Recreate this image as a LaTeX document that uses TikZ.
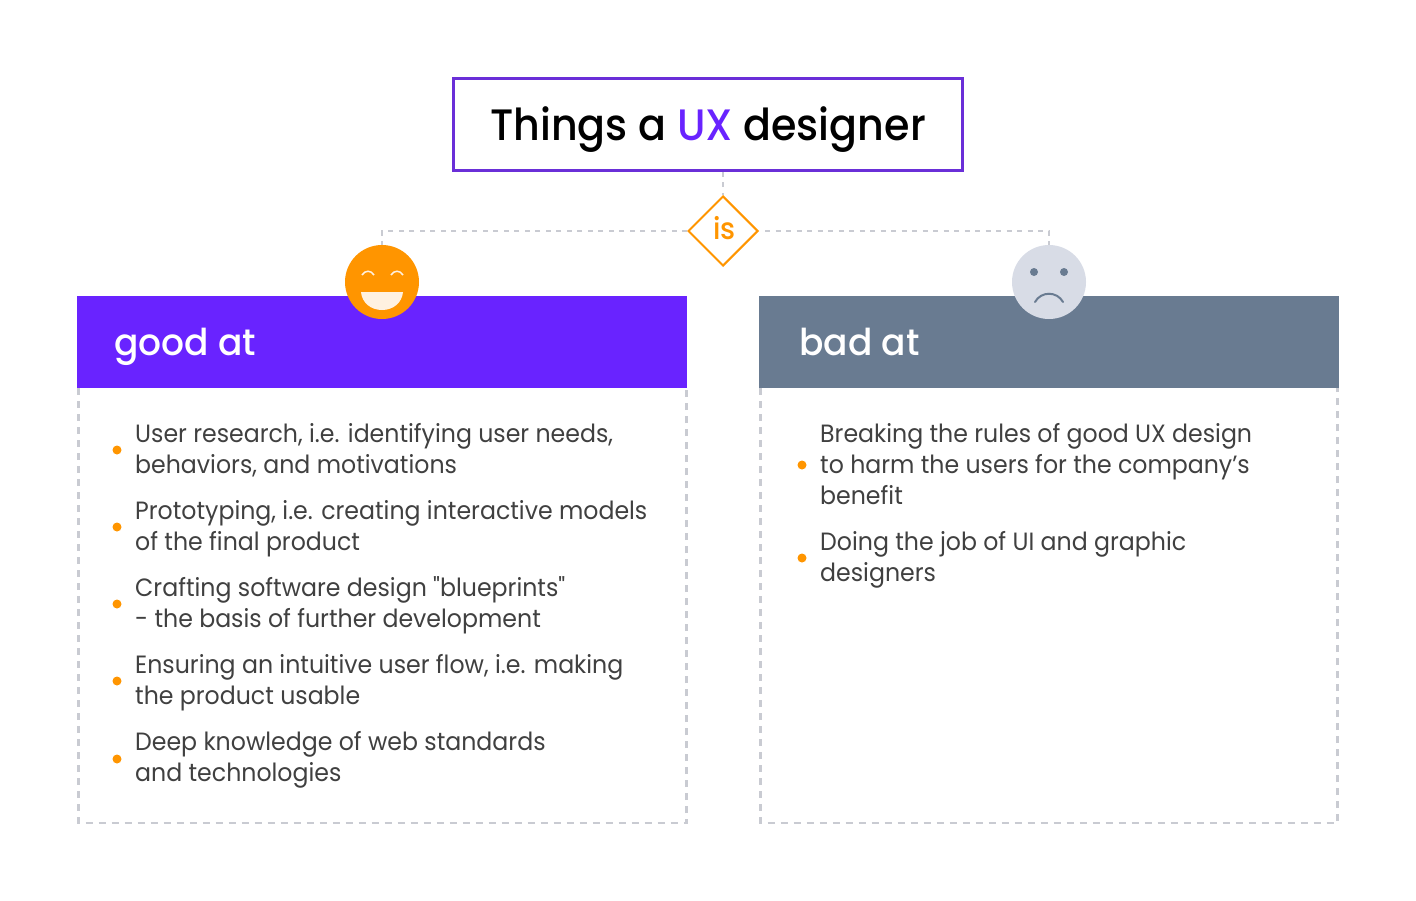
\documentclass[tikz,border=0pt]{standalone}
\usepackage{fontspec}
\usetikzlibrary{shapes.geometric}
\setmainfont{Poppins}
\newfontfamily\itemfont[FakeStretch=0.946]{Poppins}
\newfontfamily\medfont[FakeStretch=0.937]{Poppins Medium}
\newfontfamily\headfont[FakeStretch=0.973]{Poppins Medium}
\definecolor{uxpurple}{HTML}{6923FF}
\definecolor{uxframe}{HTML}{6A2FD8}
\definecolor{uxslate}{HTML}{697B91}
\definecolor{uxorange}{HTML}{FF9500}
\definecolor{uxdash}{HTML}{C9CBD2}
\definecolor{uxface}{HTML}{D8DCE6}
\definecolor{uxtext}{HTML}{404040}
\definecolor{uxcream}{HTML}{FFF1E0}
\tikzset{
  x=1pt,y=-1pt,
  dashline/.style={uxdash,line width=2.4pt,dash pattern=on 5pt off 5.5pt},
  framebox/.style={draw=uxdash,line width=2.2pt,dash pattern=on 7pt off 6pt},
  header/.style={minimum height=92pt,inner sep=0pt,anchor=north west},
  headtext/.style={anchor=base west,inner sep=0pt,text=white,font=\headfont\fontsize{37}{37}\selectfont},
  item/.style={anchor=west,inner sep=0pt,align=left,text=uxtext,font=\itemfont\fontsize{25}{31}\selectfont},
  bullet/.style={circle,fill=uxorange,minimum size=9pt,inner sep=0pt},
  face/.style={circle,minimum size=74pt,inner sep=0pt},
}
\begin{document}
\begin{tikzpicture}
\useasboundingbox (0,0) rectangle (1416,900);
\node[draw=uxframe,line width=2.6pt,minimum width=509pt,minimum height=92pt,inner sep=0pt,text height=31pt,text depth=0pt,font=\medfont\fontsize{44}{44}\selectfont] (title) at (708,124.5) {Things a \textcolor{uxpurple}{UX} designer};
\node[diamond,draw=uxorange,line width=2pt,minimum width=70pt,minimum height=70pt,inner sep=0pt,text height=16.6pt,text depth=0pt,text=uxorange,font=\medfont\fontsize{30}{30}\selectfont] (is) at (723,231) {\hspace*{3pt}is};
\draw[framebox] (78.5,388) -- (78.5,823) -- (686.5,823) -- (686.5,388);
\draw[framebox] (760.5,388) -- (760.5,823) -- (1337.5,823) -- (1337.5,388);
\node[header,fill=uxpurple,minimum width=610pt] (good) at (77,296) {};
\node[header,fill=uxslate,minimum width=580pt] (bad) at (759,296) {};
\node[face,fill=uxorange] (happy) at (382,282) {};
\node[face,fill=uxface] (sad) at (1049,282) {};
\node[headtext] (goodt) at (114,355) {good at};
\node[headtext] (badt) at (799,355) {bad at};
\coordinate (jl) at (is.west -| happy.north);
\coordinate (jr) at (is.east -| sad.north);
\draw[dashline] (title.south -| is.north) -- (is.north);
\draw[dashline] (is.west) -- (jl) -- (happy.north);
\draw[dashline] ([xshift=6pt]is.east) -- (jr) -- (sad.north);
% happy face
\draw[uxcream,line width=1.5pt] (362,275) .. controls (365,270) and (371,270) .. (374,275);
\draw[uxcream,line width=1.5pt] (391,275) .. controls (394,270) and (400,270) .. (403,275);
\fill[uxcream] (361,292) -- (403,292) .. controls (402,303) and (393,310) .. (382,310) .. controls (371,310) and (362,303) .. (361,292) -- cycle;
% sad face
\fill[uxslate] (1034,272) circle (4pt) (1064,272) circle (4pt);
\draw[uxslate,line width=2pt,line cap=round] (1035,302) .. controls (1041,291) and (1057,291) .. (1063,302);
% left list
\node[bullet] (b1) at (117,450) {};
\node[item] (t1) at (135,451.8) {\strut User research, i.e. identifying user needs,\\\strut behaviors, and motivations};
\node[bullet] (b2) at (117,527) {};
\node[item] (t2) at (135,528.8) {\strut Prototyping, i.e. creating interactive models\\\strut of the final product};
\node[bullet] (b3) at (117,604) {};
\node[item] (t3) at (135,605.8) {\strut Crafting software design "blueprints"\\\strut - the basis of further development};
\node[bullet] (b4) at (117,681) {};
\node[item] (t4) at (135,682.8) {\strut Ensuring an intuitive user flow, i.e. making\\\strut the product usable};
\node[bullet] (b5) at (117,759) {};
\node[item] (t5) at (135,759.8) {\strut Deep knowledge of web standards\\\strut and technologies};
% right list
\node[bullet] (b6) at (802,465) {};
\node[item] (t6) at (820,467.3) {\strut Breaking the rules of good UX design\\to harm the users for the company’s\\\strut benefit};
\node[bullet] (b7) at (802,558) {};
\node[item] (t7) at (820,559.8) {\strut Doing the job of UI and graphic\\\strut designers};
\end{tikzpicture}
\end{document}
